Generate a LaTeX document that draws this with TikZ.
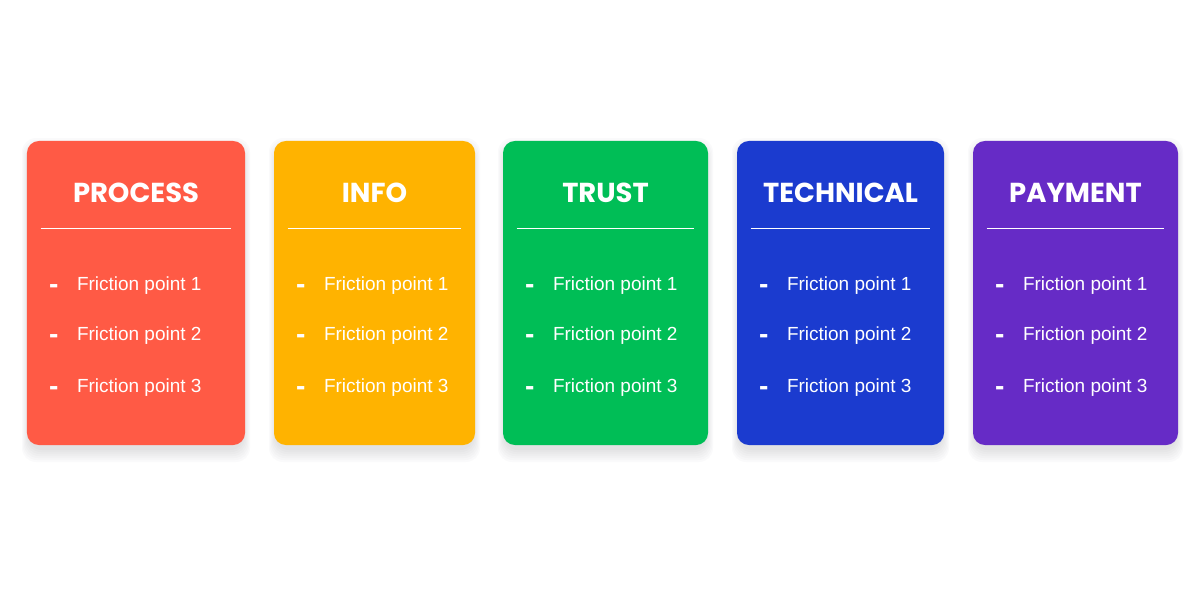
\documentclass[tikz,border=0pt]{standalone}
\usepackage{fontspec}
\setmainfont{Liberation Sans}
\newfontfamily\headfont{Poppins}
\usepackage{tikz}
\usetikzlibrary{positioning,calc}
\definecolor{cardred}{HTML}{FF5A45}
\definecolor{cardorange}{HTML}{FFB300}
\definecolor{cardgreen}{HTML}{00BE56}
\definecolor{cardblue}{HTML}{1B3BCF}
\definecolor{cardpurple}{HTML}{662BC6}
\definecolor{shadowgray}{HTML}{505060}

\begin{document}
\begin{tikzpicture}[x=0.025cm, y=-0.025cm,
  card/.style={rounded corners=12*0.025cm, inner sep=0pt},
  cardshadow/.style={fill=shadowgray, opacity=0.022, rounded corners=14*0.025cm},
  head/.style={font=\headfont\bfseries\fontsize{19.5}{22}\selectfont, text=white},
  rule/.style={white, line width=0.9pt},
  bullet/.style={font=\bfseries\fontsize{20}{22}\selectfont, text=white, anchor=base, inner sep=0pt},
  item/.style={font=\fontsize{13.5}{16}\selectfont, text=white, anchor=base west, inner sep=0pt}]
  \useasboundingbox (0,0) rectangle (1200,600);
  \fill[white] (0,0) rectangle (1200,600);

  % five friction cards
  \foreach \name/\l/\r/\col/\title in {process/27/245/cardred/PROCESS,
      info/274/475/cardorange/INFO, trust/503/708/cardgreen/TRUST,
      technical/737/944/cardblue/TECHNICAL, payment/973/1178/cardpurple/PAYMENT}{
    \foreach \k in {0,2,...,12}
      \fill[cardshadow] (\l-\k/2+1,150-\k) rectangle (\r+\k/2-1,450+\k);
    \pgfmathsetmacro{\w}{(\r-\l)*0.025}
    \node[card, fill=\col, minimum width=\w cm, minimum height=7.6cm] (\name) at ({(\l+\r)/2},293) {};
    \node[head] (\name-head) at ($(\name.north)+(0,52)$) {\title};
    \draw[rule] ($(\name.north west)+(14,88)$) -- ($(\name.north east)+(-14,88)$);
    \foreach \i/\dy in {1/150,2/200,3/252}{
      \node[bullet] (\name-dash-\i) at ($(\name.north west)+(27,\dy+3)$) {-};
      \node[item] (\name-\i) at ($(\name.north west)+(50,\dy)$) {Friction point \i};
    }
  }
\end{tikzpicture}
\end{document}
